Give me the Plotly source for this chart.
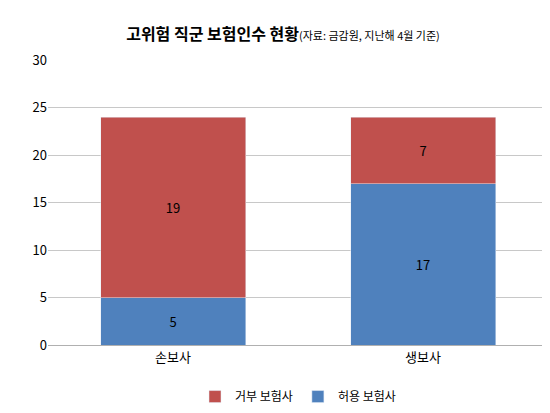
import plotly.graph_objects as go

categories = ["손보사", "생보사"]
allowed = [5, 17]
refused = [19, 7]

fig = go.Figure()
fig.add_bar(x=categories, y=allowed, name="허용 보험사", marker_color="#4F81BD",
            text=allowed, textposition="inside", insidetextanchor="middle",
            textfont=dict(color="black", size=13))
fig.add_bar(x=categories, y=refused, name="거부 보험사", marker_color="#C0504D",
            text=refused, textposition="inside", insidetextanchor="middle",
            textfont=dict(color="black", size=13))
fig.update_layout(
    barmode="stack", bargap=0.42, width=550, height=413,
    plot_bgcolor="white", paper_bgcolor="white",
    font=dict(family="Noto Sans CJK KR", size=13, color="black"),
    title=dict(text="<b>고위험 직군 보험인수 현황</b><span style='font-size:11px'>(자료: 금감원, 지난해 4월 기준)</span>",
               x=0.5, xanchor="center", y=0.95, font=dict(size=16)),
    margin=dict(l=40, r=10, t=52, b=73),
    legend=dict(orientation="h", x=0.5, xanchor="center", y=-0.13, yanchor="top", font=dict(size=12)),
    uniformtext=dict(mode="show", minsize=12),
)
fig.update_yaxes(range=[0, 30], dtick=5, showgrid=True, gridcolor="#C8C8C8", zeroline=False,
                 showline=False, ticks="")
fig.update_xaxes(showline=True, linecolor="#B0B0B0")
fig.write_html("out.html")
